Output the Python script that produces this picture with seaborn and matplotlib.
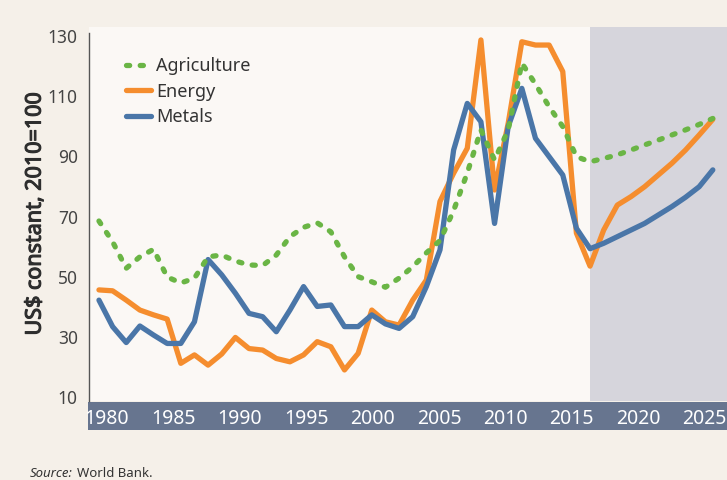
import matplotlib
matplotlib.use("Agg")
import matplotlib.pyplot as plt
import matplotlib.patheffects as pe
import matplotlib.transforms as mtransforms
import pandas as pd
import seaborn as sns
from matplotlib.patches import Rectangle

# Commodity price indices, US$ constant 2010=100
years = list(range(1980, 2026))
agriculture = [68.5, 61.6, 52.8, 56.6, 59.1, 49.9, 47.9, 49.5, 56.6, 57.2,
               55.2, 53.9, 53.7, 57.2, 63.3, 66.4, 67.9, 64.9, 56.6, 50.0,
               48.3, 46.5, 49.5, 53.3, 57.9, 62.0, 72.0, 84.5, 98.8, 88.8,
               98.8, 121.0, 114.0, 106.5, 99.9, 89.9, 88.2, 89.3, 90.5, 92.1,
               93.8, 95.4, 97.1, 98.8, 100.6, 102.6]
energy = [45.6, 45.3, 42.2, 38.9, 37.3, 35.9, 21.2, 24.0, 20.6, 24.3,
          29.8, 26.1, 25.6, 22.8, 21.7, 24.0, 28.4, 26.7, 19.0, 24.5,
          38.9, 35.0, 33.9, 42.2, 48.9, 75.0, 84.4, 92.7, 128.7, 78.8,
          101.0, 128.1, 127.0, 127.0, 118.2, 64.5, 53.5, 65.5, 73.8, 76.6,
          79.9, 83.8, 87.7, 92.1, 97.1, 102.3]
metals = [42.2, 33.4, 28.1, 33.6, 30.6, 27.8, 27.8, 35.0, 55.7, 50.6,
          44.5, 37.8, 36.7, 31.7, 38.9, 46.7, 40.1, 40.6, 33.4, 33.4,
          37.3, 34.3, 32.8, 36.7, 46.7, 58.9, 92.1, 107.6, 101.5, 67.7,
          99.9, 112.6, 96.0, 89.9, 83.8, 66.1, 59.3, 61.1, 63.3, 65.5,
          67.7, 70.5, 73.3, 76.4, 79.9, 85.5]
forecast_start = 2016
x_ticks = list(range(1980, 2030, 5))
y_ticks = list(range(10, 140, 20))

df = pd.DataFrame({"year": years, "Agriculture": agriculture,
                   "Energy": energy, "Metals": metals})

sns.set_theme(style="white")
plt.rcParams["font.family"] = ["Noto Sans", "DejaVu Sans"]
plt.rcParams["font.stretch"] = "condensed"

fig = plt.figure(figsize=(7.27, 4.8), dpi=100, facecolor="#f5f0e9")
ax = fig.add_axes([89 / 727, 1 - 401 / 480, 638 / 727, 374 / 480])
ax.set_facecolor("#fbf8f5")

# forecast shading
ax.axvspan(forecast_start, 2027, color="#d6d5dc", zorder=0, lw=0)

sns.lineplot(data=df, x="year", y="Energy", ax=ax, color="#f58d2e",
             lw=3.8, solid_capstyle="round", solid_joinstyle="round", label="Energy")
sns.lineplot(data=df, x="year", y="Metals", ax=ax, color="#4a76a8",
             lw=3.8, solid_capstyle="round", solid_joinstyle="round", label="Metals")
sns.lineplot(data=df, x="year", y="Agriculture", ax=ax, color="#6ab545",
             lw=3.8, linestyle=(0, (0.6, 2.0)), dash_capstyle="round", label="Agriculture")

ax.set_xlim(1979.27, 2026.04)
ax.set_ylim(8.67, 133)
ax.set_xticks(x_ticks)
ax.set_yticks(y_ticks)
ax.set_xlabel("")
ax.set_ylabel("US$ constant, 2010=100", fontsize=15.5, color="#2e2e2e",
              path_effects=[pe.withStroke(linewidth=0.8, foreground="#2e2e2e")])
ax.yaxis.set_label_coords(-0.068, 0.5)

for s in ["top", "right", "bottom"]:
    ax.spines[s].set_visible(False)
ax.spines["left"].set_color("#555555")
ax.spines["left"].set_linewidth(1)
ax.spines["left"].set_bounds(8.67, 131)

ax.tick_params(axis="y", length=0, pad=8, labelsize=12.5, labelcolor="#444444")
ax.tick_params(axis="x", length=0, pad=6, labelsize=14, labelcolor="white")

# labels in the band sit a bit off the ticks, as in the original
for i, lab in enumerate(ax.get_xticklabels()):
    dx = (8 - 1.8 * i) / 100
    lab.set_transform(lab.get_transform() +
                      mtransforms.ScaledTranslation(dx, 0, fig.dpi_scale_trans))

# x-axis band, under the tick labels
band = Rectangle((88 / 727, 1 - 430 / 480), 1 - 88 / 727, 28 / 480,
                 transform=fig.transFigure, facecolor="#67758f",
                 edgecolor="none", zorder=0.5, clip_on=False)
ax.add_patch(band)

handles, labels = ax.get_legend_handles_labels()
order = [labels.index(n) for n in ["Agriculture", "Energy", "Metals"]]
ax.legend([handles[i] for i in order], [labels[i] for i in order],
          loc="upper left", bbox_to_anchor=(0.058, 0.92), frameon=False,
          fontsize=13, handlelength=1.4, handletextpad=0.25,
          labelspacing=0.43, borderpad=0, borderaxespad=0,
          labelcolor="#333333")

src = fig.text(30 / 727, 3 / 480, "Source:", fontsize=9.5, style="italic",
               color="#333333", va="baseline")
ax.annotate("World Bank.", xy=(1, 0), xycoords=src, xytext=(3, 0),
            textcoords="offset points", fontsize=9.5, color="#333333", va="bottom")

fig.savefig("out.png", dpi=100, facecolor=fig.get_facecolor())
